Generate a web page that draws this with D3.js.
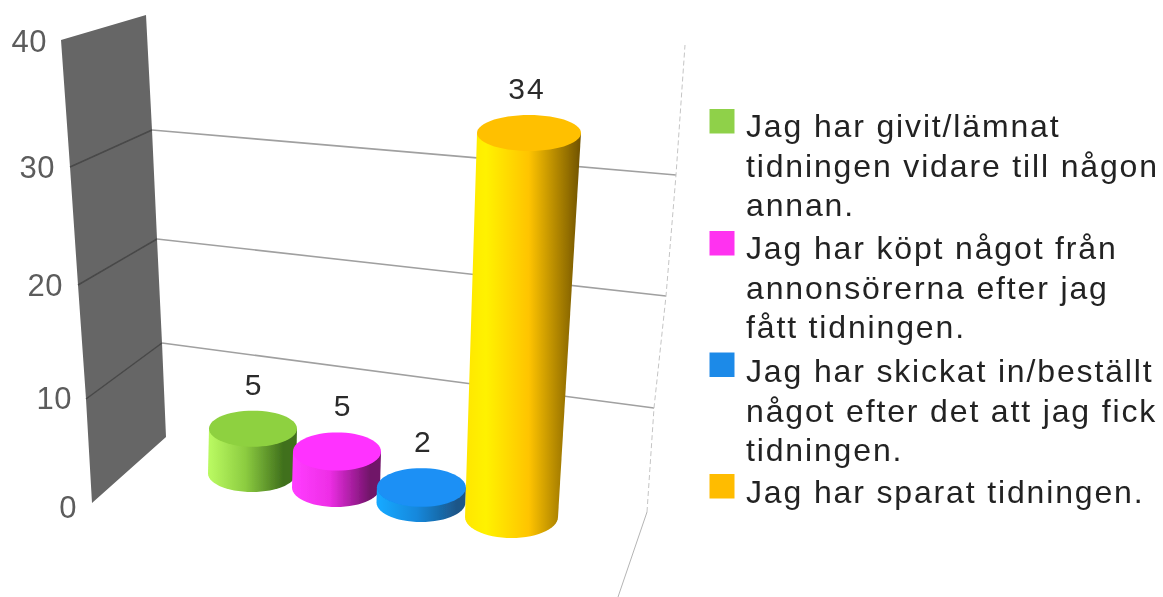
<!DOCTYPE html>
<html>
<head>
<meta charset="utf-8">
<script src="https://cdn.jsdelivr.net/npm/d3@7"></script>
<style>
html,body{margin:0;padding:0;background:#fff}
svg{display:block}
text{font-family:"Liberation Sans",Arial,sans-serif}
</style>
</head>
<body>
<svg id="chart" width="1163" height="597"></svg>
<script>
const categories = [
  ["Jag har givit/lämnat","tidningen vidare till någon","annan."],
  ["Jag har köpt något från","annonsörerna efter jag","fått tidningen."],
  ["Jag har skickat in/beställt","något efter det att jag fick","tidningen."],
  ["Jag har sparat tidningen."]
];
const values = [5, 5, 2, 34];
const tickValues = [0, 10, 20, 30, 40];
const gridValues = [10, 20, 30];
const swatchColors = ["#8fd14a", "#ff33f0", "#1e8ae8", "#ffbc00"];
const topColors = ["#8ed13f", "#ff33ff", "#1a90f5", "#ffc000"];
const sideStops = [
  [[0.03,"#b8f860"], [0.42,"#8ccc40"], [0.85,"#3f6f1c"]],
  [[0.03,"#ff3cff"], [0.42,"#ee2ee6"], [0.88,"#701268"]],
  [[0.03,"#12a8ff"], [0.45,"#1488dc"], [0.9,"#1c5688"]],
  [[0,"#ffe600"], [0.18,"#fff200"], [0.55,"#ffc400"], [1,"#6f5200"]]
];

const svg = d3.select("#chart");

/* Perspective of the reference: each wall edge has its own value scale */
const frontX = d3.scaleLinear().domain(tickValues).range([92, 86, 78, 70, 61]);
const frontY = d3.scaleLinear().domain(tickValues).range([503, 399, 285, 167, 40]);
const backX  = d3.scaleLinear().domain(tickValues).range([166, 162, 157, 152, 146]);
const backY  = d3.scaleLinear().domain(tickValues).range([437, 343, 239, 130, 15]);
const rightX = d3.scaleLinear().domain(tickValues).range([647, 654, 666, 676, 685]);
const rightY = d3.scaleLinear().domain(tickValues).range([512, 408, 296, 175, 45]);

/* Tick label anchor scales */
const labelX = d3.scaleLinear().domain(tickValues).range([77, 72, 63, 55, 47]);
const labelY = d3.scaleLinear().domain(tickValues).range([518, 409, 296, 178, 52]);

/* Cylinder scales */
const idx = [0, 1, 2, 3];
const baseCx = d3.scaleLinear().domain(idx).range([252, 336, 421, 511.5]);
const baseCy = d3.scaleLinear().domain(idx).range([473.5, 487.5, 502.5, 517]);
const baseRx = d3.scaleLinear().domain(idx).range([44, 44, 44.5, 46.5]);
const baseRy = d3.scaleLinear().domain(idx).range([18.5, 19.5, 19.5, 21]);
const heightK = d3.scaleLinear().domain(idx).range([1.12, 0.9, 1, 1]);
const height = d3.scaleLinear().domain([0, 2, 5, 34]).range([0, 15, 40, 384]);
const lean   = d3.scaleLinear().domain([0, 5, 34]).range([0, 1, 17.5]);
const grow   = d3.scaleLinear().domain([0, 5, 34]).range([0, 0, 5.5]);
const shrink = d3.scaleLinear().domain([0, 34]).range([0, -3]);
const labelNudge = d3.scaleLinear().domain(idx).range([0, 5, 1, -2]);

const defs = svg.append("defs");
const soft = defs.append("filter").attr("id", "soft")
  .attr("filterUnits", "userSpaceOnUse")
  .attr("x", 0).attr("y", 0).attr("width", 1163).attr("height", 597);
soft.append("feGaussianBlur").attr("stdDeviation", 0.6);

const root = svg.append("g").attr("filter", "url(#soft)");

/* Wall */
const line = d3.line();
const wallPts = tickValues.map(v => [frontX(v), frontY(v)])
  .concat(tickValues.slice().reverse().map(v => [backX(v), backY(v)]));
root.append("path").attr("d", line(wallPts) + "Z").attr("fill", "#666666");

/* Gridlines */
root.selectAll("line.wall").data(gridValues).join("line").attr("class", "wall")
  .attr("x1", frontX).attr("y1", frontY).attr("x2", backX).attr("y2", backY)
  .attr("stroke", "#484848").attr("stroke-width", 1.5);
root.selectAll("line.grid").data(gridValues).join("line").attr("class", "grid")
  .attr("x1", backX).attr("y1", backY).attr("x2", rightX).attr("y2", rightY)
  .attr("stroke", "#a0a0a0").attr("stroke-width", 1.6);

/* Right frame */
root.append("path")
  .attr("d", line(tickValues.map(v => [rightX(v), rightY(v)])))
  .attr("fill", "none").attr("stroke", "#c4c4c4").attr("stroke-width", 1)
  .attr("stroke-dasharray", "5,3");
root.append("path")
  .attr("d", line([[rightX(0), rightY(0)], [rightX(0) - 29, rightY(0) + 85]]))
  .attr("fill", "none").attr("stroke", "#b4b4b4").attr("stroke-width", 1);

/* Tick labels */
root.selectAll("text.tick").data(tickValues).join("text").attr("class", "tick")
  .attr("x", labelX).attr("y", labelY).attr("text-anchor", "end")
  .attr("font-size", 31).attr("letter-spacing", 0.5).attr("fill", "#5c5c5c").text(d => d);

/* Cylinders */
const ellipseAngles = d3.range(0, 361, 6).map(d => d * Math.PI / 180);
values.forEach((v, i) => {
  const h = height(v) * heightK(i);
  const bx = baseCx(i), by = baseCy(i), brx = baseRx(i), bry = baseRy(i);
  const tx = bx + lean(v), ty = by - h, trx = brx + grow(v), tryy = bry + shrink(v);

  const grad = defs.append("linearGradient").attr("id", "side" + i)
    .attr("x1", 0).attr("x2", 1).attr("y1", 0).attr("y2", 0);
  sideStops[i].forEach(s => grad.append("stop").attr("offset", s[0]).attr("stop-color", s[1]));

  const frontArc = d3.range(0, 181, 6).map(d => d * Math.PI / 180)
    .map(a => [bx + brx * Math.cos(a), by + bry * Math.sin(a)]);
  const body = [[tx + trx, ty]].concat(frontArc, [[tx - trx, ty], [tx, ty]]);
  root.append("path").attr("d", line(body) + "Z").attr("fill", `url(#side${i})`);
  root.append("path")
    .attr("d", line(ellipseAngles.map(a => [tx + trx * Math.cos(a), ty + tryy * Math.sin(a)])) + "Z")
    .attr("fill", topColors[i]);

  root.append("text").attr("x", tx + labelNudge(i)).attr("y", ty - tryy - 16)
    .attr("text-anchor", "middle").attr("font-size", 30).attr("fill", "#2a2a2a")
    .attr("letter-spacing", i === 3 ? 2 : 0).text(v);
});

/* Legend */
const legendTop = d3.scaleLinear().domain(idx).range([109, 231, 352.5, 474]);
const legendBase = d3.scaleLinear().domain(idx).range([137, 259, 382, 503]);
categories.forEach((lines, i) => {
  root.append("rect").attr("x", 709.5).attr("y", legendTop(i))
    .attr("width", 25).attr("height", 24.5).attr("fill", swatchColors[i]);
  lines.forEach((t, k) => {
    root.append("text").attr("x", 746).attr("y", legendBase(i) + k * 39.5)
      .attr("font-size", 32).attr("letter-spacing", 1.85).attr("fill", "#222222").text(t);
  });
});
</script>
</body>
</html>
